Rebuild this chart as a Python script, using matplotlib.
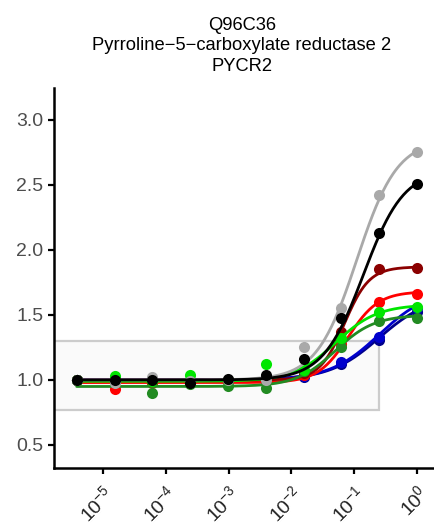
import numpy as np
import matplotlib
matplotlib.use("Agg")
import matplotlib.pyplot as plt
from matplotlib.patches import Rectangle
from matplotlib.ticker import FixedLocator, FixedFormatter, NullLocator

plt.rcParams["font.family"] = ["Liberation Sans", "DejaVu Sans"]
plt.rcParams["mathtext.fontset"] = "custom"
plt.rcParams["mathtext.rm"] = "Liberation Sans"
plt.rcParams["mathtext.default"] = "regular"

# dose series (1:4 dilutions) and relative response per condition
conc = [3.81e-6, 1.53e-5, 6.10e-5, 2.44e-4, 9.77e-4, 3.91e-3, 1.56e-2, 6.25e-2, 0.25, 1.0]

names = ["navy", "blue", "red", "darkred", "forestgreen", "lime", "gray", "black"]
colors = ["#00008B", "#0000CD", "#FF0000", "#8B0000", "#228B22", "#00E600", "#A9A9A9", "#000000"]

navy = [1.00, 0.99, 0.99, 0.98, 0.99, 1.00, 1.02, 1.12, 1.31, 1.52]
blue = [1.00, 0.99, 1.00, 0.99, 0.99, 1.00, 1.03, 1.14, 1.33, 1.55]
red = [1.00, 0.93, 0.98, 0.98, 0.99, 0.99, 1.04, 1.28, 1.60, 1.66]
darkred = [1.00, 0.99, 0.99, 0.98, 1.00, 1.00, 1.05, 1.37, 1.85, 1.86]
forestgreen = [1.00, 1.01, 0.90, 0.97, 0.95, 0.94, 1.07, 1.25, 1.45, 1.48]
lime = [1.00, 1.03, 0.99, 1.04, 1.00, 1.12, 1.08, 1.32, 1.52, 1.56]
gray = [1.00, 0.98, 1.02, 0.99, 1.00, 1.00, 1.25, 1.55, 2.42, 2.75]
black = [1.00, 1.00, 1.00, 0.98, 1.01, 1.04, 1.16, 1.48, 2.13, 2.51]
values = [navy, blue, red, darkred, forestgreen, lime, gray, black]

# log-logistic fit parameters: bottom, top, ec50, hill
fit_bottom = [1.00, 1.00, 0.98, 1.00, 0.95, 0.99, 1.00, 1.00]
fit_top = [1.65, 1.70, 1.68, 1.87, 1.50, 1.58, 2.85, 2.62]
fit_ec50 = [0.25, 0.25, 0.08, 0.07, 0.05, 0.05, 0.11, 0.14]
fit_hill = [1.1, 1.1, 1.8, 2.2, 1.4, 1.3, 1.35, 1.35]

box_lo, box_hi = 1 / 1.3, 1.3

fig = plt.figure(figsize=(4.34, 5.26), dpi=100)
ax = fig.add_axes([54 / 434, 58 / 526, 380 / 434, 380 / 526])

ax.add_patch(Rectangle((1e-9, box_lo), conc[8] - 1e-9, box_hi - box_lo,
                       facecolor="#FAFAFA", edgecolor="#CCCCCC", lw=1.6, zorder=1))

xs = np.logspace(np.log10(conc[0]), 0, 300)
for i, name in enumerate(names):
    b, t, e, h = fit_bottom[i], fit_top[i], fit_ec50[i], fit_hill[i]
    ys = b + (t - b) / (1 + (e / xs) ** h)
    ax.plot(xs, ys, color=colors[i], lw=2.0, zorder=2 + i, solid_capstyle="round")
    ax.plot(conc, values[i], "o", color=colors[i], ms=8, mec="none", zorder=2 + i)

ax.set_xscale("log")
ax.set_xlim(10 ** -5.78, 10 ** 0.27)
ax.set_ylim(0.323, 3.246)

xt = [1e-5, 1e-4, 1e-3, 1e-2, 1e-1, 1e0]
xlab = [r"$10^{-5}$", r"$10^{-4}$", r"$10^{-3}$", r"$10^{-2}$", r"$10^{-1}$", r"$10^{0}$"]
ax.xaxis.set_major_locator(FixedLocator(xt))
ax.xaxis.set_major_formatter(FixedFormatter(xlab))
ax.xaxis.set_minor_locator(NullLocator())
ax.set_yticks([0.5, 1.0, 1.5, 2.0, 2.5, 3.0])
ax.set_yticklabels(["0.5", "1.0", "1.5", "2.0", "2.5", "3.0"])

for lab in ax.get_xticklabels():
    lab.set_rotation(45)
    lab.set_ha("right")
    lab.set_rotation_mode("anchor")

ax.tick_params(axis="both", length=4.5, width=1.6, color="black", labelsize=14)
ax.tick_params(axis="y", labelcolor="#4D4D4D", pad=3)
ax.tick_params(axis="x", labelcolor="#222222", pad=6)

for side in ["top", "right"]:
    ax.spines[side].set_visible(False)
for side in ["left", "bottom"]:
    ax.spines[side].set_linewidth(1.8)

fig.text(242 / 434, 1 - 46 / 526,
         "Q96C36\nPyrroline\u22125\u2212carboxylate reductase 2\nPYCR2",
         ha="center", va="center", fontsize=13.2, linespacing=1.3)

fig.savefig("out.png", dpi=100)
